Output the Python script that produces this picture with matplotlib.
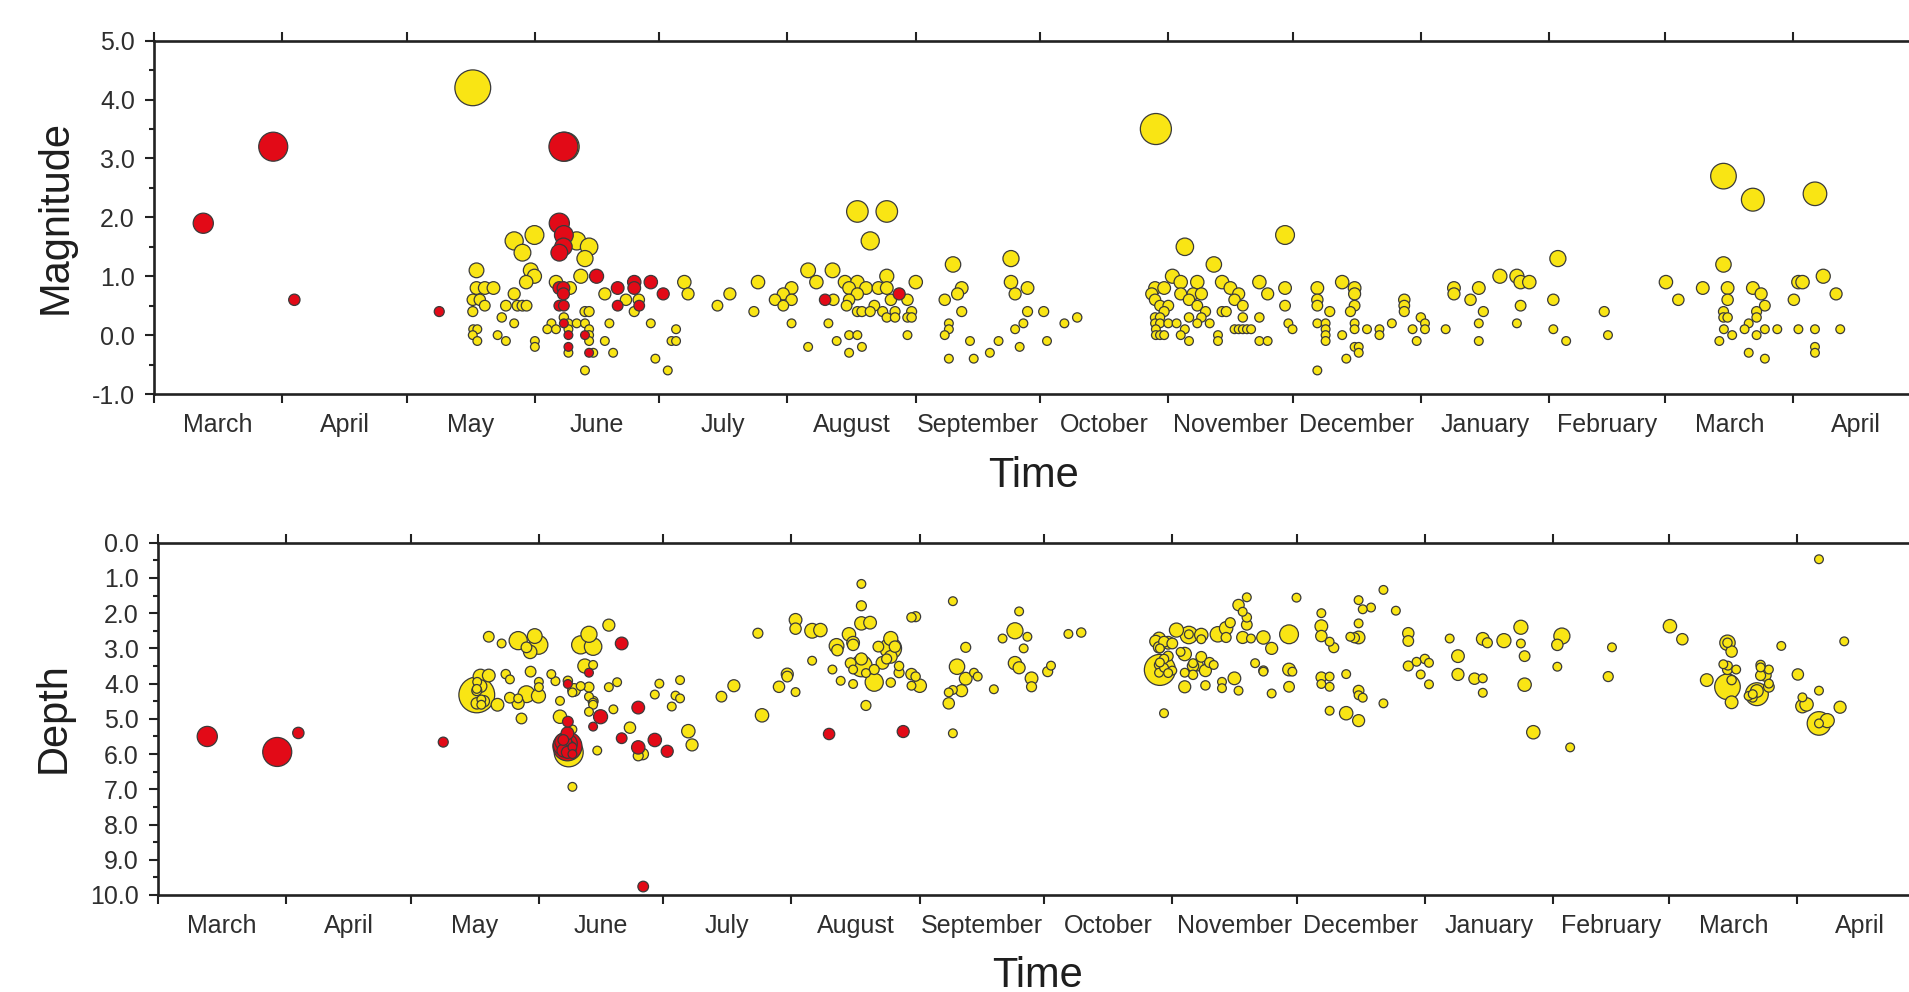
import matplotlib
matplotlib.use("Agg")
import matplotlib.pyplot as plt
from matplotlib.ticker import FixedLocator, MultipleLocator, FormatStrFormatter, NullFormatter
from datetime import date

plt.rcParams['font.family'] = ['Liberation Sans', 'DejaVu Sans']

START = date(2018, 3, 1)

# ---- catalogue A (yellow): days after START, magnitude, depth ----
yellow_day = [
    77.0, 77.9, 77.9, 79.9, 82.0, 77.0, 78.7, 79.9, 77.0, 77.1,
    78.1, 77.0, 78.1, 83.0, 85.0, 84.0, 85.0, 87.0, 87.0, 87.0,
    89.0, 87.8, 89.0, 90.0, 91.0, 91.9, 89.9, 91.9, 92.0, 92.0,
    95.0, 96.0, 97.1, 97.1, 100.5, 99.0, 100.1, 102.1, 104.1, 100.1,
    100.1, 105.1, 105.1, 105.1, 106.1, 104.1, 104.1, 105.1, 102.1, 105.1,
    104.1, 103.1, 99.2, 108.9, 110.0, 108.9, 110.9, 114.0, 117.1, 116.0,
    120.0, 121.1,
    124.1, 125.0, 126.1, 126.1, 128.1, 129.0, 136.1, 139.1, 144.9, 145.9,
    150.0, 152.0, 152.0, 154.0, 154.0, 154.0, 158.0, 158.0, 160.0, 164.1,
    162.9, 163.9, 164.9, 166.9, 167.3, 167.9, 167.9, 167.9, 167.9, 169.9,
    169.9, 169.9, 169.9, 169.9, 171.0, 171.0, 172.0, 173.0, 173.0, 174.0,
    175.0, 176.0, 177.0, 177.0, 177.0, 177.0, 178.0, 179.0, 179.0, 182.0,
    182.0, 182.0, 183.0, 183.0, 184.0,
    191.0, 192.0, 192.0, 191.0, 192.0, 193.0, 194.1, 195.1, 195.1, 197.1,
    198.0, 201.9, 204.0, 207.0, 207.0, 208.0, 208.0, 209.1, 210.0, 211.0,
    211.0, 214.9, 215.7, 219.9, 223.0,
    242.0, 249.0, 256.0, 273.2, 241.8, 244.0, 241.8, 243.0, 245.0, 244.0,
    241.8, 243.0, 241.8, 243.0, 245.0, 242.0, 242.0, 243.0, 244.0, 241.0,
    246.0, 248.0, 248.0, 247.0, 249.0, 248.0, 250.0, 250.0, 250.0, 251.0,
    252.0, 252.0, 252.0, 253.0, 253.0, 254.0, 255.0, 257.0, 257.0, 258.0,
    258.0, 259.0, 260.0, 261.0, 262.0, 263.0, 263.0, 261.0, 262.0, 263.0,
    264.0, 265.0, 267.0, 267.0, 267.0, 269.0, 269.0, 273.2, 273.2, 274.0,
    275.0,
    281.0, 281.0, 281.0, 281.0, 281.0, 283.0, 283.0, 283.0, 283.0, 284.0,
    287.0, 287.0, 288.0, 290.0, 290.0, 290.0, 289.0, 290.0, 290.0, 290.0,
    291.0, 291.0, 293.0, 296.0, 296.0, 299.0, 302.0, 302.0, 302.0, 304.0,
    305.0, 306.0, 307.0, 307.0, 312.0, 314.0, 314.0, 318.0, 320.0, 320.0,
    320.0, 321.1,
    325.1, 329.2, 330.1, 332.2, 330.1, 329.2, 339.1, 338.0, 338.0, 341.1,
    350.3, 351.2,
    365.2, 368.2, 374.1, 379.1, 379.1, 380.1, 380.1, 379.1, 379.1, 380.1,
    379.2, 378.1, 381.2, 386.2, 386.2, 388.2, 389.1, 387.1, 387.1, 385.2,
    384.2, 387.1, 389.1, 392.1, 385.2, 389.1, 396.1, 397.2, 398.2, 397.2,
    401.2, 401.2, 401.2, 401.2, 403.2, 406.3, 407.3,
]
yellow_mag = [
    4.2, 1.1, 0.8, 0.8, 0.8, 0.6, 0.6, 0.5, 0.4, 0.1,
    0.1, 0.0, -0.1, 0.0, -0.1, 0.3, 0.5, 0.7, 0.2, 1.6,
    1.4, 0.5, 0.5, 0.5, 1.1, 1.0, 0.9, 1.7, -0.1, -0.2,
    0.1, 0.2, 0.1, 0.9, 0.8, 0.3, 0.2, 0.2, 0.2, 0.1,
    -0.3, 0.1, 0.0, -0.1, -0.3, -0.6, 0.4, 0.4, 1.6, 1.5,
    1.3, 1.0, 3.2, 0.7, 0.2, -0.1, -0.3, 0.6, 0.6, 0.4,
    0.2, -0.4,
    -0.6, -0.1, -0.1, 0.1, 0.9, 0.7, 0.5, 0.7, 0.4, 0.9,
    0.6, 0.7, 0.5, 0.8, 0.6, 0.2, 1.1, -0.2, 0.9, 0.6,
    0.2, 1.1, -0.1, 0.9, 0.5, 0.8, 0.6, 0.0, -0.3, 2.1,
    0.9, 0.7, 0.4, 0.0, 0.4, -0.2, 0.8, 1.6, 0.4, 0.5,
    0.8, 0.4, 2.1, 1.0, 0.8, 0.3, 0.6, 0.4, 0.3, 0.6,
    0.3, 0.0, 0.4, 0.3, 0.9,
    0.6, 0.2, 0.1, 0.0, -0.4, 1.2, 0.7, 0.8, 0.4, -0.1,
    -0.4, -0.3, -0.1, 1.3, 0.9, 0.7, 0.1, -0.2, 0.2, 0.8,
    0.4, 0.4, -0.1, 0.2, 0.3,
    3.5, 1.5, 1.2, 1.7, 0.8, 0.8, 0.6, 0.5, 0.5, 0.4,
    0.3, 0.3, 0.2, 0.2, 0.2, 0.1, 0.0, 0.0, 0.0, 0.7,
    1.0, 0.9, 0.7, 0.2, 0.1, 0.0, -0.1, 0.6, 0.3, 0.7,
    0.9, 0.5, 0.2, 0.7, 0.3, 0.4, 0.2, 0.0, -0.1, 0.9,
    0.4, 0.4, 0.8, 0.6, 0.7, 0.5, 0.3, 0.1, 0.1, 0.1,
    0.1, 0.1, 0.9, 0.3, -0.1, 0.7, -0.1, 0.8, 0.5, 0.2,
    0.1,
    0.8, 0.6, 0.5, 0.2, -0.6, 0.2, 0.1, 0.0, -0.1, 0.4,
    0.9, 0.0, -0.4, 0.8, 0.7, 0.5, 0.4, 0.2, 0.1, -0.2,
    -0.2, -0.3, 0.1, 0.1, 0.0, 0.2, 0.6, 0.5, 0.4, 0.1,
    -0.1, 0.3, 0.2, 0.1, 0.1, 0.8, 0.7, 0.6, 0.8, 0.2,
    -0.1, 0.4,
    1.0, 1.0, 0.9, 0.9, 0.5, 0.2, 1.3, 0.6, 0.1, -0.1,
    0.4, 0.0,
    0.9, 0.6, 0.8, 2.7, 1.2, 0.8, 0.6, 0.4, 0.3, 0.3,
    0.1, -0.1, 0.0, 2.3, 0.8, 0.7, 0.5, 0.4, 0.3, 0.2,
    0.1, 0.0, 0.1, 0.1, -0.3, -0.4, 0.6, 0.9, 0.9, 0.1,
    2.4, 0.1, -0.2, -0.3, 1.0, 0.7, 0.1,
]
yellow_depth = [
    4.32, 3.80, 4.07, 3.77, 4.60, 4.56, 4.50, 2.67, 4.20, 3.95,
    4.45, 4.15, 4.60, 2.86, 3.88, 3.73, 4.40, 4.56, 4.42, 2.78,
    4.30, 4.99, 2.97, 3.66, 2.65, 4.35, 3.10, 2.90, 3.95, 4.10,
    3.73, 3.93, 4.49, 4.94, 4.18, 3.92, 6.93, 4.07, 4.37, 4.25,
    5.30, 4.54, 3.47, 4.60, 5.90, 4.80, 4.10, 4.50, 2.90, 2.95,
    2.60, 3.50, 5.95, 2.34, 4.73, 4.10, 3.96, 5.25, 6.00, 6.05,
    4.31, 4.00,
    4.65, 4.34, 4.42, 3.90, 5.35, 5.74, 4.37, 4.06, 2.57, 4.90,
    4.09, 3.73, 3.80, 2.19, 2.44, 4.24, 2.50, 3.35, 2.48, 3.05,
    3.60, 2.93, 3.92, 2.60, 3.42, 2.84, 2.90, 4.01, 3.60, 3.50,
    2.29, 3.30, 1.79, 1.17, 4.62, 3.70, 2.27, 3.96, 3.60, 2.95,
    3.41, 3.30, 3.00, 2.72, 3.24, 3.97, 2.95, 3.69, 3.50, 3.73,
    2.12, 4.06, 2.10, 3.80, 4.06,
    4.56, 4.18, 1.66, 4.25, 5.41, 3.52, 4.20, 3.86, 2.97, 3.69,
    3.80, 4.16, 2.72, 2.50, 3.42, 3.55, 1.95, 3.00, 2.67, 3.85,
    4.09, 3.66, 3.49, 2.59, 2.55,
    3.61, 2.62, 2.60, 2.60, 2.72, 2.84, 2.97, 2.81, 2.86, 3.22,
    3.47, 3.30, 3.69, 3.55, 3.63, 3.00, 3.40, 4.84, 3.70, 2.80,
    2.48, 3.16, 4.09, 3.10, 2.60, 3.69, 3.42, 3.50, 3.75, 3.47,
    2.62, 3.24, 2.74, 3.63, 4.05, 3.40, 3.47, 3.95, 4.13, 2.43,
    2.69, 2.27, 3.85, 1.77, 2.69, 2.33, 2.12, 4.20, 1.96, 1.55,
    2.72, 3.42, 2.69, 3.63, 3.66, 3.00, 4.28, 3.60, 4.09, 3.66,
    1.56,
    2.37, 2.65, 3.82, 2.00, 4.01, 2.81, 3.80, 4.09, 4.77, 2.98,
    4.84, 3.73, 2.67, 2.69, 5.05, 4.20, 2.70, 1.63, 2.29, 4.33,
    1.89, 4.40, 1.84, 1.34, 4.56, 1.93, 2.57, 2.79, 3.50, 3.38,
    3.74, 3.30, 3.41, 4.02, 2.72, 3.22, 3.74, 3.86, 2.73, 3.85,
    4.26, 2.84,
    2.78, 2.40, 4.03, 5.38, 3.22, 2.86, 2.65, 2.90, 3.52, 5.81,
    3.80, 2.97,
    2.37, 2.74, 3.90, 4.09, 2.84, 4.53, 3.09, 3.60, 2.84, 3.90,
    3.49, 3.45, 3.60, 4.30, 4.21, 3.76, 4.09, 3.77, 3.47, 4.40,
    4.35, 3.54, 3.60, 2.93, 4.30, 4.00, 3.74, 4.64, 4.59, 4.39,
    5.13, 0.47, 4.20, 5.13, 5.05, 4.67, 2.80,
]

# ---- catalogue B (red) ----
red_day = [
    11.9, 28.8, 33.9, 68.9, 98.9, 97.9, 99.0, 98.9, 97.9, 97.9,
    98.9, 98.9, 97.9, 99.0, 99.0, 100.1, 100.1, 104.1, 105.1, 106.9,
    112.0, 112.0, 116.0, 116.0, 117.2, 120.0, 123.0, 162.1, 180.0,
]
red_mag = [
    1.9, 3.2, 0.6, 0.4, 3.2, 1.9, 1.7, 1.5, 1.4, 0.8,
    0.8, 0.7, 0.5, 0.5, 0.2, 0.0, -0.2, 0.0, -0.3, 1.0,
    0.8, 0.5, 0.9, 0.8, 0.5, 0.9, 0.7, 0.6, 0.7,
]
red_depth = [
    5.50, 5.94, 5.40, 5.66, 5.78, 5.75, 5.70, 5.85, 5.65, 5.90,
    5.41, 5.95, 5.60, 5.08, 4.01, 5.80, 6.00, 3.69, 5.22, 4.94,
    2.86, 5.55, 5.81, 4.68, 9.76, 5.60, 5.92, 5.43, 5.36,
]

month_names = ['March', 'April', 'May', 'June', 'July', 'August', 'September',
               'October', 'November', 'December', 'January', 'February',
               'March', 'April']

assert len(yellow_day) == len(yellow_mag) == len(yellow_depth)
assert len(red_day) == len(red_mag) == len(red_depth)

YELLOW = '#f9e514'
RED = '#e20a17'
EDGE = '#3a3a3a'
TXT = '#2e2e2e'
DPI = 100


def marker_area(m):
    # circle diameter grows with magnitude, with a floor for tiny events
    d_px = max(10.0, 8.5 + 6.8 * m)
    d_pt = d_px * 72.0 / DPI - 0.9
    return d_pt ** 2


def by_size(days, mags, vals):
    order = sorted(range(len(mags)), key=lambda i: -mags[i])
    return ([days[i] for i in order], [vals[i] for i in order],
            [marker_area(mags[i]) for i in order])


# month boundaries and mid-month label positions (in days after START)
month_starts = []
y, m = 2018, 3
for k in range(len(month_names) + 1):
    month_starts.append((date(y, m, 1) - START).days)
    m += 1
    if m > 12:
        m, y = 1, y + 1
month_mids = [(a + b) / 2.0 for a, b in zip(month_starts[:-1], month_starts[1:])]

W, H = 1909, 992
fig = plt.figure(figsize=(W / DPI, H / DPI), dpi=DPI)

ax1 = fig.add_axes([154 / W, 1 - 394 / H, (W - 154) / W, (394 - 40.7) / H])
ax2 = fig.add_axes([158 / W, 1 - 895 / H, (W - 158) / W, (895 - 542.7) / H])

PX_PER_DAY = 4.14


def style_axis(ax, width_px):
    ax.set_xlim(0, width_px / PX_PER_DAY)
    for side in ('left', 'bottom', 'top'):
        ax.spines[side].set_linewidth(1.9)
        ax.spines[side].set_color('#222222')
    ax.spines['right'].set_visible(False)
    ax.xaxis.set_major_locator(FixedLocator(month_starts))
    ax.xaxis.set_major_formatter(NullFormatter())
    ax.xaxis.set_minor_locator(FixedLocator(month_mids))
    ax.set_xticklabels(month_names, minor=True)
    ax.tick_params(axis='x', which='major', direction='out', length=6.5,
                   width=1.5, color='#222222', top=True, bottom=True)
    ax.tick_params(axis='x', which='minor', length=0, pad=14,
                   labelsize=18, labelcolor=TXT, top=False)
    ax.yaxis.set_major_locator(MultipleLocator(1.0))
    ax.yaxis.set_minor_locator(MultipleLocator(0.5))
    ax.yaxis.set_major_formatter(FormatStrFormatter('%.1f'))
    ax.tick_params(axis='y', which='major', direction='out', length=6.5,
                   width=1.5, color='#222222', pad=7.2, labelsize=18,
                   labelcolor=TXT)
    ax.tick_params(axis='y', which='minor', direction='out', length=3.6,
                   width=1.5, color='#222222')


# magnitude panel
d, v, s = by_size(yellow_day, yellow_mag, yellow_mag)
ax1.scatter(d, v, s=s, c=YELLOW, edgecolors=EDGE, linewidths=0.9, zorder=3)
d, v, s = by_size(red_day, red_mag, red_mag)
ax1.scatter(d, v, s=s, c=RED, edgecolors=EDGE, linewidths=0.9, zorder=4)
style_axis(ax1, W - 154)
ax1.set_ylim(-1.0, 5.0)

# depth panel
d, v, s = by_size(yellow_day, yellow_mag, yellow_depth)
ax2.scatter(d, v, s=s, c=YELLOW, edgecolors=EDGE, linewidths=0.9, zorder=3)
d, v, s = by_size(red_day, red_mag, red_depth)
ax2.scatter(d, v, s=s, c=RED, edgecolors=EDGE, linewidths=0.9, zorder=4)
style_axis(ax2, W - 158)
ax2.set_ylim(10.0, 0.0)

fig.text(56 / W, 1 - 217.5 / H, 'Magnitude', rotation=90, ha='center',
         va='center', fontsize=30, color='#1e1e1e')
fig.text(54 / W, 1 - 718 / H, 'Depth', rotation=90, ha='center',
         va='center', fontsize=30, color='#1e1e1e')
fig.text(1033.5 / W, 1 - 486.7 / H, 'Time', ha='center', va='baseline',
         fontsize=30, color='#1e1e1e')
fig.text(1037.5 / W, 1 - 986.7 / H, 'Time', ha='center', va='baseline',
         fontsize=30, color='#1e1e1e')

fig.savefig('out.png', dpi=DPI)
